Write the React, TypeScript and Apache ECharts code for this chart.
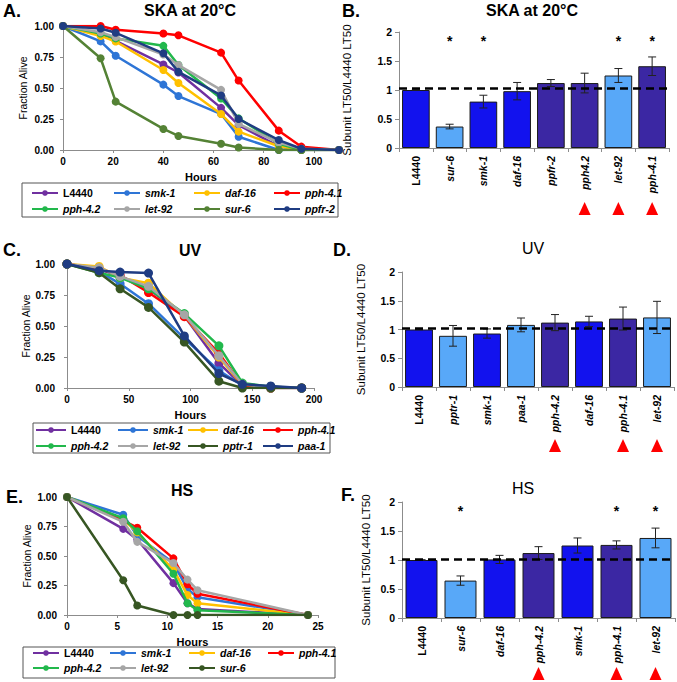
import React, { useEffect, useRef } from 'react';
import * as echarts from 'echarts';

const FONT = 'Arial, "Liberation Sans", Helvetica, sans-serif';

// ---------- Panel A: SKA at 20°C survival ----------
const namesA = ['L4440', 'smk-1', 'daf-16', 'pph-4.1', 'pph-4.2', 'let-92', 'sur-6', 'ppfr-2'];
const colorsA = ['#7030a0', '#2e75d6', '#ffc000', '#ff0000', '#22b84c', '#a6a6a6', '#548235', '#1f3c82'];
const timesA = [0, 15, 21, 40, 46, 63, 70, 86, 95, 110];
const a_L4440 = [1, 0.93, 0.88, 0.69, 0.625, 0.34, 0.2, 0.03, 0, 0];
const a_smk1 = [1, 0.876, 0.76, 0.527, 0.435, 0.29, 0.107, 0, 0, 0];
const a_daf16 = [1, 0.92, 0.875, 0.645, 0.54, 0.29, 0.148, 0.03, 0, 0];
const a_pph41 = [1, 1.0, 0.97, 0.94, 0.925, 0.785, 0.56, 0.156, 0.027, 0];
const a_pph42 = [1, 0.94, 0.9, 0.84, 0.685, 0.415, 0.255, 0.05, 0, 0];
const a_let92 = [1, 0.95, 0.91, 0.77, 0.685, 0.485, 0.21, 0.06, 0.01, 0];
const a_sur6 = [1, 0.74, 0.39, 0.17, 0.113, 0.05, 0.02, 0, 0, 0];
const a_ppfr2 = [1, 0.98, 0.945, 0.78, 0.63, 0.44, 0.25, 0.08, 0.01, 0];

// ---------- Panel C: UV survival ----------
const namesC = ['L4440', 'smk-1', 'daf-16', 'pph-4.1', 'pph-4.2', 'let-92', 'pptr-1', 'paa-1'];
const colorsC = ['#7030a0', '#2e75d6', '#ffc000', '#ff0000', '#22b84c', '#a6a6a6', '#375623', '#1f3c82'];
const timesC = [0, 26, 43, 66, 95, 123, 142, 165, 190];
const c_L4440 = [1, 0.96, 0.9, 0.8, 0.58, 0.2, 0.02, 0, 0];
const c_smk1 = [1, 0.94, 0.84, 0.68, 0.4, 0.14, 0.02, 0, 0];
const c_daf16 = [1, 0.98, 0.89, 0.845, 0.58, 0.25, 0.02, 0, 0];
const c_pph41 = [1, 0.96, 0.91, 0.77, 0.575, 0.28, 0.02, 0, 0];
const c_pph42 = [1, 0.93, 0.89, 0.8, 0.6, 0.34, 0.04, 0.01, 0];
const c_let92 = [1, 0.97, 0.9, 0.82, 0.59, 0.26, 0.03, 0, 0];
const c_pptr1 = [1, 0.93, 0.8, 0.65, 0.37, 0.055, 0, 0, 0];
const c_paa1 = [1, 0.946, 0.935, 0.927, 0.42, 0.117, 0.03, 0.016, 0];

// ---------- Panel E: HS survival ----------
const namesE = ['L4440', 'smk-1', 'daf-16', 'pph-4.1', 'pph-4.2', 'let-92', 'sur-6'];
const colorsE = ['#7030a0', '#2e75d6', '#ffc000', '#ff0000', '#22b84c', '#a6a6a6', '#375623'];
const timesE = [0, 5.6, 7, 10.6, 12, 13, 24];
const e_L4440 = [1, 0.73, 0.64, 0.27, 0.1, 0.05, 0];
const e_smk1 = [1, 0.85, 0.67, 0.44, 0.22, 0.15, 0];
const e_daf16 = [1, 0.81, 0.7, 0.385, 0.17, 0.1, 0];
const e_pph41 = [1, 0.8, 0.74, 0.48, 0.26, 0.18, 0];
const e_pph42 = [1, 0.82, 0.71, 0.35, 0.1, 0.04, 0];
const e_let92 = [1, 0.79, 0.62, 0.44, 0.3, 0.21, 0];
const e_sur6 = [1, 0.295, 0.08, 0, 0, 0, 0];

// ---------- Bar panels ----------
const BAR_COLORS: Record<string, string> = { b: '#1212ee', l: '#58a8f8', d: '#3b27a3' };

const catsB = ['L4440', 'sur-6', 'smk-1', 'daf-16', 'ppfr-2', 'pph4.2', 'let-92', 'pph-4.1'];
const valsB = [1.0, 0.37, 0.8, 0.98, 1.12, 1.12, 1.25, 1.41];
const errB = [0.005, 0.04, 0.11, 0.15, 0.06, 0.17, 0.12, 0.16];
const kindsB = ['b', 'l', 'b', 'b', 'd', 'd', 'l', 'd'];
const starsB = [0, 1, 1, 0, 0, 0, 1, 1];
const triB = [0, 0, 0, 0, 0, 1, 1, 1];
const refB = 1.03;

const catsD = ['L4440', 'pptr-1', 'smk-1', 'paa-1', 'pph-4.2', 'daf-16', 'pph-4.1', 'let-92'];
const valsD = [1.0, 0.89, 0.93, 1.08, 1.12, 1.14, 1.19, 1.21];
const errD = [0.005, 0.18, 0.08, 0.12, 0.14, 0.09, 0.2, 0.28];
const kindsD = ['b', 'l', 'b', 'l', 'd', 'b', 'd', 'l'];
const starsD = [0, 0, 0, 0, 0, 0, 0, 0];
const triD = [0, 0, 0, 0, 1, 0, 1, 1];
const refD = 1.02;

const catsF = ['L4440', 'sur-6', 'daf-16', 'pph-4.2', 'smk-1', 'pph-4.1', 'let-92'];
const valsF = [1.0, 0.645, 1.01, 1.12, 1.25, 1.26, 1.38];
const errF = [0.005, 0.08, 0.07, 0.11, 0.13, 0.07, 0.17];
const kindsF = ['b', 'l', 'b', 'd', 'b', 'd', 'l'];
const starsF = [0, 1, 0, 0, 0, 1, 1];
const triF = [0, 0, 0, 1, 0, 1, 1];
const refF = 1.02;

const STAR_LEVEL = 1.9;
const yTicksBar = [0, 0.5, 1, 1.5, 2];

const AXIS_GRAY = '#8c8c8c';

function lineSeries(prefix: string, names: string[], colors: string[], times: number[], vals: number[][], idx: number, size: number) {
  return names.map((n, i) => ({
    type: 'line',
    name: prefix + '|' + n,
    xAxisIndex: idx,
    yAxisIndex: idx,
    data: times.map((t, j) => [t, vals[i][j]]),
    symbol: 'circle',
    symbolSize: size,
    lineStyle: { color: colors[i], width: 2.5 },
    itemStyle: { color: colors[i] },
    emphasis: { disabled: true },
    z: 2 + i,
  }));
}

function barSeries(idx: number, vals: number[], kinds: string[], ref: number) {
  return {
    type: 'bar',
    xAxisIndex: idx,
    yAxisIndex: idx,
    barCategoryGap: '18%',
    data: vals.map((v, i) => ({ value: v, itemStyle: { color: BAR_COLORS[kinds[i]] } })),
    itemStyle: { borderColor: '#1a1a1a', borderWidth: 1 },
    emphasis: { disabled: true },
    markLine: {
      silent: true,
      symbol: 'none',
      label: { show: false },
      lineStyle: { color: '#000', type: [8, 5], width: 2.5 },
      data: [{ yAxis: ref }],
      z: 10,
    },
  };
}

function decoSeries(idx: number, vals: number[], errs: number[], stars: number[], tris: number[], triOff: number) {
  return {
    type: 'custom',
    xAxisIndex: idx,
    yAxisIndex: idx,
    z: 6,
    silent: true,
    data: vals.map((v, i) => [i, v, errs[i], stars[i], tris[i]]),
    renderItem: (_p: any, api: any) => {
      const i = api.value(0);
      const v = api.value(1);
      const e = api.value(2);
      const top = api.coord([i, v + e]);
      const bot = api.coord([i, v - e]);
      const x = top[0];
      const st = { stroke: '#222', lineWidth: 1 };
      const children: any[] = [
        { type: 'line', shape: { x1: x, y1: top[1], x2: x, y2: bot[1] }, style: st },
        { type: 'line', shape: { x1: x - 4, y1: top[1], x2: x + 4, y2: top[1] }, style: st },
        { type: 'line', shape: { x1: x - 4, y1: bot[1], x2: x + 4, y2: bot[1] }, style: st },
      ];
      if (api.value(3)) {
        const s = api.coord([i, STAR_LEVEL]);
        children.push({
          type: 'text',
          x: s[0],
          y: s[1] + 3,
          style: { text: '*', fontSize: 14, fontWeight: 'bold', fontFamily: FONT, fill: '#000', align: 'center', verticalAlign: 'middle', textAlign: 'center', textVerticalAlign: 'middle' },
        });
      }
      if (api.value(4)) {
        const b = api.coord([i, 0]);
        const cy = b[1] + triOff;
        children.push({
          type: 'polygon',
          shape: { points: [[x, cy - 7], [x - 6, cy + 6], [x + 6, cy + 6]] },
          style: { fill: '#ff0000' },
        });
      }
      return { type: 'group', children };
    },
  };
}

const italicName = (n: string) => (n === 'L4440' ? `{n|${n}}` : `{i|${n}}`);

function lineAxes(grid: number, max: number, interval: number, yMargin: number) {
  const x = {
    type: 'value',
    gridIndex: grid,
    min: 0,
    max,
    interval,
    name: 'Hours',
    nameLocation: 'middle',
    nameGap: 21,
    nameTextStyle: { fontFamily: FONT, fontSize: 11, fontWeight: 'bold', color: '#000' },
    axisLine: { show: true, lineStyle: { color: AXIS_GRAY, width: 1 } },
    axisTick: { show: true, length: 3, lineStyle: { color: AXIS_GRAY } },
    axisLabel: { fontFamily: FONT, fontSize: 10, fontWeight: 'bold', color: '#000', margin: 6, showMaxLabel: max % interval === 0 },
    splitLine: { show: false },
  };
  const y = {
    type: 'value',
    gridIndex: grid,
    min: 0,
    max: 1,
    interval: 0.25,
    name: 'Fraction Alive',
    nameLocation: 'middle',
    nameGap: 35,
    nameRotate: 90,
    nameTextStyle: { fontFamily: FONT, fontSize: 10.5, color: '#000' },
    axisLine: { show: true, lineStyle: { color: AXIS_GRAY, width: 1 } },
    axisTick: { show: true, length: 3, lineStyle: { color: AXIS_GRAY } },
    axisLabel: { fontFamily: FONT, fontSize: 10, fontWeight: 'bold', color: '#000', margin: yMargin, formatter: (v: number) => v.toFixed(2) },
    splitLine: { show: false },
  };
  return { x, y };
}

function barAxes(grid: number, cats: string[], nameGap: number) {
  const x = {
    type: 'category',
    gridIndex: grid,
    data: cats,
    axisLine: { show: true, lineStyle: { color: AXIS_GRAY, width: 1 } },
    axisTick: { show: true, length: 4, alignWithLabel: false, lineStyle: { color: AXIS_GRAY } },
    axisLabel: {
      interval: 0,
      rotate: 90,
      margin: 8,
      formatter: italicName,
      rich: {
        n: { fontFamily: FONT, fontSize: 10.5, fontWeight: 'bold', color: '#000' },
        i: { fontFamily: FONT, fontSize: 10.5, fontWeight: 'bold', fontStyle: 'italic', color: '#000' },
      },
    },
    splitLine: { show: false },
  };
  const y = {
    type: 'value',
    gridIndex: grid,
    min: yTicksBar[0],
    max: yTicksBar[yTicksBar.length - 1],
    interval: 0.5,
    name: 'Subunit LT50/L4440 LT50',
    nameLocation: 'middle',
    nameGap,
    nameRotate: 90,
    nameTextStyle: { fontFamily: FONT, fontSize: 11.5, color: '#000' },
    axisLine: { show: true, lineStyle: { color: AXIS_GRAY, width: 1 } },
    axisTick: { show: true, length: 4, lineStyle: { color: AXIS_GRAY } },
    axisLabel: { fontFamily: FONT, fontSize: 10.5, fontWeight: 'bold', color: '#000', margin: 7 },
    splitLine: { show: false },
  };
  return { x, y };
}

function legendCols(prefix: string, names: string[], lefts: number[], top: number, itemWidth: number, gap: number) {
  return lefts.map((left, k) => ({
    orient: 'vertical',
    left,
    top,
    padding: 0,
    itemWidth,
    itemHeight: 7,
    itemGap: gap,
    selectedMode: false,
    data: [names[k], names[k + 4]].filter((n) => n !== undefined).map((n) => prefix + '|' + n),
    formatter: (name: string) => italicName(name.split('|')[1]),
    textStyle: {
      fontFamily: FONT,
      fontSize: 10.5,
      fontWeight: 'bold',
      color: '#000',
      lineHeight: 12,
      rich: {
        n: { fontFamily: FONT, fontSize: 10.5, fontWeight: 'bold', color: '#000', lineHeight: 12 },
        i: { fontFamily: FONT, fontSize: 10.5, fontWeight: 'bold', fontStyle: 'italic', color: '#000', lineHeight: 12 },
      },
    },
  }));
}

function txt(text: string, x: number, y: number, size: number, weight: string, align = 'center') {
  return {
    type: 'text',
    x,
    y,
    z: 20,
    style: {
      text,
      fontFamily: FONT,
      fontSize: size,
      fontWeight: weight,
      fill: '#000',
      align,
      verticalAlign: 'middle',
      textAlign: align,
      textVerticalAlign: 'middle',
    },
  };
}

function box(x: number, y: number, w: number, h: number) {
  return { type: 'rect', shape: { x, y, width: w, height: h }, style: { fill: 'none', stroke: '#555', lineWidth: 1 }, z: 1 };
}

export default function App() {
  const ref = useRef<HTMLDivElement>(null);
  useEffect(() => {
    if (!ref.current) return;
    const chart = echarts.init(ref.current, undefined, { renderer: 'svg' });

    const A = lineAxes(0, 110, 20, 9);
    const B = barAxes(1, catsB, 46);
    const C = lineAxes(2, 200, 50, 12);
    const D = barAxes(3, catsD, 35);
    const E = lineAxes(4, 25, 5, 10);
    const F = barAxes(5, catsF, 30);

    const option: any = {
      animation: false,
      backgroundColor: '#fff',
      grid: [
        { left: 63, top: 26, width: 276, height: 124 },
        { left: 399, top: 32, width: 270, height: 116 },
        { left: 67, top: 264, width: 247, height: 124 },
        { left: 402, top: 272, width: 272, height: 115 },
        { left: 67, top: 497, width: 251, height: 118 },
        { left: 402, top: 502, width: 273, height: 116 },
      ],
      xAxis: [A.x, B.x, C.x, D.x, E.x, F.x],
      yAxis: [A.y, B.y, C.y, D.y, E.y, F.y],
      legend: [
        ...legendCols('A', namesA, [31, 113, 193, 273], 187, 26, 4),
        ...legendCols('C', namesC, [35, 117, 187, 262], 424, 30, 4),
        ...legendCols('E', namesE, [32, 109, 188, 267], 647, 26, 3),
      ],
      series: [
        ...lineSeries('A', namesA, colorsA, timesA, [a_L4440, a_smk1, a_daf16, a_pph41, a_pph42, a_let92, a_sur6, a_ppfr2], 0, 8),
        barSeries(1, valsB, kindsB, refB),
        decoSeries(1, valsB, errB, starsB, triB, 61),
        ...lineSeries('C', namesC, colorsC, timesC, [c_L4440, c_smk1, c_daf16, c_pph41, c_pph42, c_let92, c_pptr1, c_paa1], 2, 9),
        barSeries(3, valsD, kindsD, refD),
        decoSeries(3, valsD, errD, starsD, triD, 59),
        ...lineSeries('E', namesE, colorsE, timesE, [e_L4440, e_smk1, e_daf16, e_pph41, e_pph42, e_let92, e_sur6], 4, 8),
        barSeries(5, valsF, kindsF, refF),
        decoSeries(5, valsF, errF, starsF, triF, 56),
      ],
      graphic: [
        txt('A.', 3, 11, 18, 'bold', 'left'),
        txt('SKA at 20°C', 190, 10, 16, 'bold'),
        txt('B.', 342, 11, 18, 'bold', 'left'),
        txt('SKA at 20°C', 532, 10, 16, 'bold'),
        txt('C.', 3, 250, 18, 'bold', 'left'),
        txt('UV', 190, 250, 16, 'bold'),
        txt('D.', 333, 250, 18, 'bold', 'left'),
        txt('UV', 533, 248, 16, 'normal'),
        txt('E.', 6, 497, 18, 'bold', 'left'),
        txt('HS', 182, 490, 16, 'bold'),
        txt('F.', 341, 495, 18, 'bold', 'left'),
        txt('HS', 523, 488, 16, 'normal'),
        box(22, 183, 316, 34),
        box(33, 423, 297, 30),
        box(23, 647, 312, 31),
      ],
    };
    chart.setOption(option);
    return () => chart.dispose();
  }, []);
  return <div ref={ref} style={{ position: 'absolute', left: 0, top: 0, width: 677, height: 682 }} />;
}
